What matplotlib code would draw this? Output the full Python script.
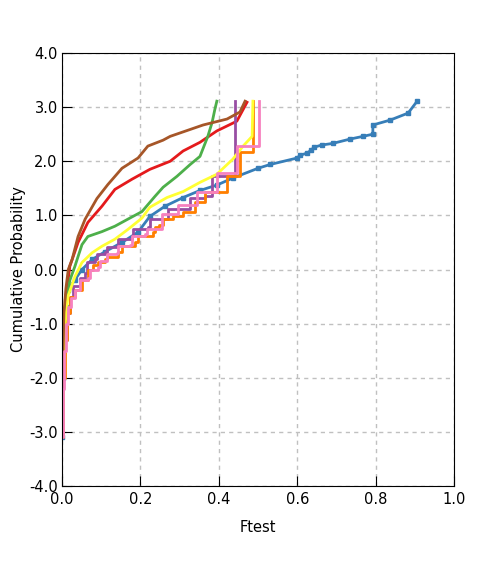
import matplotlib
matplotlib.use('Agg')
import matplotlib.pyplot as plt
from matplotlib.ticker import FormatStrFormatter

# colours (Set1 palette)
red, blue, green, purple = '#e41a1c', '#377eb8', '#4daf4a', '#984ea3'
orange, yellow, brown, pink = '#ff7f00', '#ffff33', '#a65628', '#f781bf'

# smooth-ish curves: (Ftest, cumulative probability)
red_x = [0.0, 0.002, 0.006, 0.012, 0.02, 0.041, 0.066, 0.102, 0.135, 0.179, 0.224, 0.276, 0.309, 0.352, 0.395, 0.446, 0.472]
red_y = [-3.1, -2.0, -1.0, -0.4, 0.06, 0.5, 0.87, 1.17, 1.48, 1.67, 1.85, 2.0, 2.19, 2.35, 2.56, 2.74, 3.09]

blue_x = [0.0, 0.002, 0.005, 0.01, 0.015, 0.033, 0.051, 0.077, 0.11, 0.153, 0.194, 0.224, 0.263, 0.309, 0.352,
          0.395, 0.436, 0.5, 0.531, 0.6, 0.607, 0.625, 0.635, 0.643, 0.663, 0.691, 0.735, 0.768, 0.793, 0.793,
          0.837, 0.883, 0.906]
blue_y = [-3.1, -2.0, -1.2, -0.7, -0.37, -0.19, 0.0, 0.185, 0.33, 0.5, 0.69, 0.98, 1.17, 1.33, 1.46,
          1.56, 1.69, 1.87, 1.94, 2.06, 2.11, 2.15, 2.2, 2.26, 2.3, 2.33, 2.41, 2.46, 2.5, 2.67,
          2.76, 2.89, 3.11]

green_x = [0.0, 0.004, 0.01, 0.02, 0.033, 0.041, 0.051, 0.066, 0.102, 0.135, 0.168, 0.204, 0.237, 0.258, 0.293,
           0.327, 0.352, 0.372, 0.383, 0.39, 0.395]
green_y = [-3.1, -1.5, -0.6, -0.2, 0.06, 0.24, 0.46, 0.61, 0.7, 0.8, 0.93, 1.07, 1.35, 1.52, 1.72,
           1.94, 2.09, 2.46, 2.72, 2.96, 3.11]

yellow_x = [0.0, 0.003, 0.008, 0.015, 0.033, 0.051, 0.077, 0.102, 0.135, 0.168, 0.204, 0.224, 0.268, 0.309,
            0.352, 0.395, 0.436, 0.462, 0.485, 0.487]
yellow_y = [-3.1, -2.0, -1.0, -0.5, -0.13, 0.13, 0.31, 0.43, 0.56, 0.74, 0.95, 1.15, 1.33, 1.44,
            1.61, 1.76, 2.04, 2.28, 2.46, 3.11]

brown_x = [0.0, 0.003, 0.005, 0.01, 0.016, 0.026, 0.041, 0.059, 0.089, 0.117, 0.153, 0.194, 0.219, 0.258,
           0.276, 0.36, 0.421, 0.454, 0.467]
brown_y = [-3.1, -1.45, -0.8, -0.35, 0.0, 0.19, 0.61, 0.93, 1.31, 1.57, 1.87, 2.06, 2.28, 2.39,
           2.46, 2.67, 2.78, 2.91, 3.11]

# step curves: level reached at each Ftest value
purple_x = [0.0, 0.002, 0.006, 0.012, 0.02, 0.028, 0.045, 0.059, 0.064, 0.084, 0.089, 0.11, 0.115, 0.14,
            0.143, 0.179, 0.181, 0.219, 0.224, 0.27, 0.327, 0.365, 0.383, 0.441]
purple_y = [-3.1, -2.0, -1.3, -0.8, -0.5, -0.31, -0.15, -0.06, 0.13, 0.19, 0.28, 0.33, 0.41, 0.43,
            0.56, 0.61, 0.74, 0.78, 0.93, 1.11, 1.33, 1.35, 1.72, 3.11]

orange_x = [0.0, 0.003, 0.007, 0.012, 0.02, 0.033, 0.051, 0.066, 0.079, 0.092, 0.11, 0.115, 0.143, 0.153,
            0.186, 0.194, 0.232, 0.237, 0.247, 0.258, 0.283, 0.309, 0.339, 0.365, 0.42, 0.454, 0.487]
orange_y = [-3.1, -2.0, -1.3, -0.8, -0.5, -0.37, -0.19, 0.0, 0.09, 0.13, 0.19, 0.24, 0.33, 0.43,
            0.5, 0.61, 0.69, 0.78, 0.83, 0.93, 0.98, 1.07, 1.24, 1.43, 1.72, 2.18, 3.11]

pink_x = [0.0, 0.003, 0.006, 0.01, 0.015, 0.022, 0.033, 0.046, 0.066, 0.071, 0.092, 0.097, 0.115, 0.14,
          0.143, 0.173, 0.179, 0.212, 0.217, 0.255, 0.296, 0.344, 0.395, 0.446, 0.503]
pink_y = [-3.1, -2.2, -1.5, -1.0, -0.7, -0.52, -0.37, -0.19, -0.15, 0.0, 0.04, 0.15, 0.28, 0.31,
          0.43, 0.46, 0.61, 0.65, 0.74, 1.02, 1.2, 1.43, 1.78, 2.28, 3.11]

fig = plt.figure(figsize=(5.02, 5.61), dpi=100)
ax = fig.add_axes([62 / 502, 1 - 486 / 561, 392 / 502, 433 / 561])

lw = 2.0
ax.plot(red_x, red_y, color=red, lw=lw)
ax.plot(blue_x, blue_y, color=blue, lw=lw, marker='s', markersize=3)
ax.plot(green_x, green_y, color=green, lw=lw)
ax.plot(purple_x, purple_y, color=purple, lw=lw, drawstyle='steps-post')
ax.plot(orange_x, orange_y, color=orange, lw=lw, drawstyle='steps-post')
ax.plot(yellow_x, yellow_y, color=yellow, lw=lw)
ax.plot(brown_x, brown_y, color=brown, lw=lw)
ax.plot(pink_x, pink_y, color=pink, lw=lw, drawstyle='steps-post')

ax.set_xlim(0, 1)
ax.set_ylim(-4, 4)
ax.set_xticks([0.0, 0.2, 0.4, 0.6, 0.8, 1.0])
ax.set_yticks([-4, -3, -2, -1, 0, 1, 2, 3, 4])
ax.xaxis.set_major_formatter(FormatStrFormatter('%.1f'))
ax.yaxis.set_major_formatter(FormatStrFormatter('%.1f'))
ax.tick_params(direction='in', length=7, labelsize=10.5, top=False, right=False)
ax.tick_params(axis='x', pad=4)
ax.tick_params(axis='y', pad=3)
ax.grid(True, color='#c0c0c0', linestyle=(0, (3, 3)), linewidth=1)
ax.set_axisbelow(True)

ax.set_xlabel('Ftest', fontsize=10.5, labelpad=10)
ax.set_ylabel('Cumulative Probability', fontsize=10.5, labelpad=2)

fig.savefig('out.png', dpi=100)
